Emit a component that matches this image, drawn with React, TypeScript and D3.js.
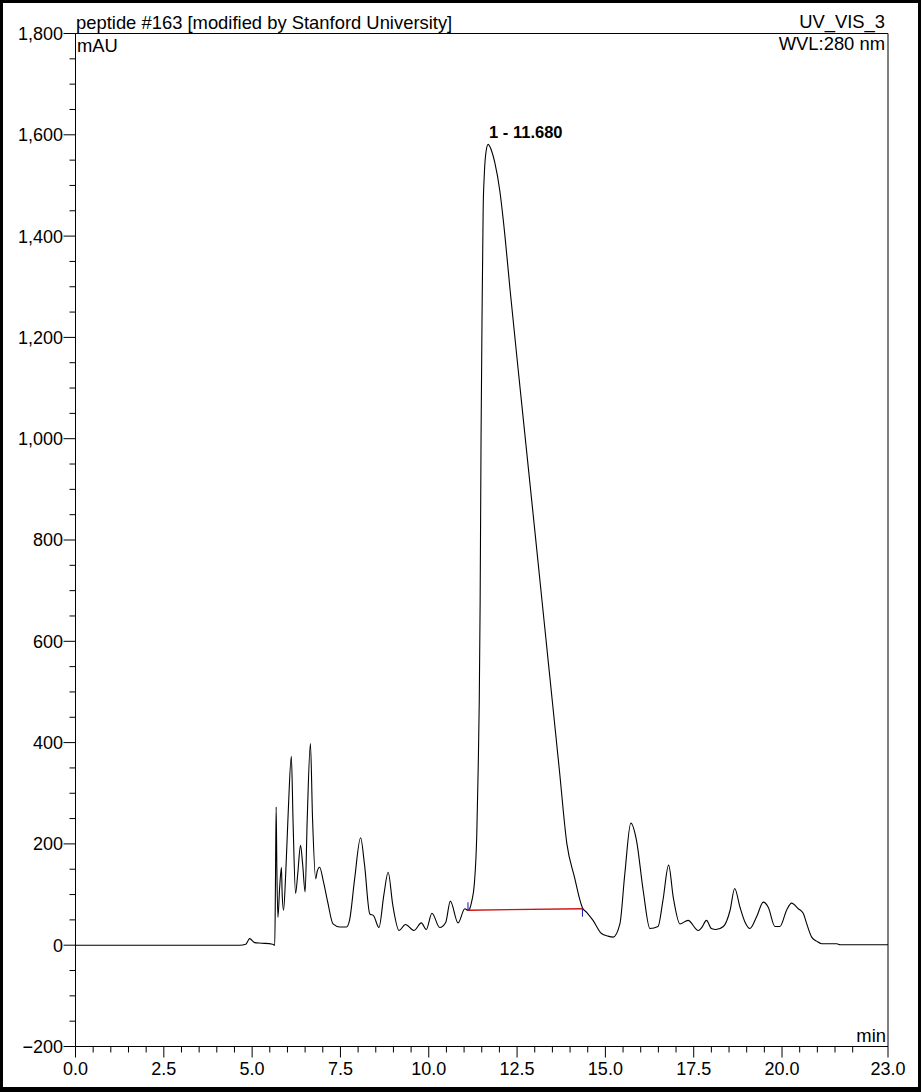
import * as d3 from "d3";

// retention time (min) and absorbance (mAU)
const TIME = [
  0, 4.65, 4.82, 4.93, 5.07, 5.27, 5.58, 5.64, 5.66, 5.68, 5.7, 5.73, 5.78, 5.83, 5.85, 5.89,
  5.95, 6.02, 6.11, 6.16, 6.23, 6.29, 6.37, 6.43, 6.5, 6.56, 6.65, 6.71, 6.8, 6.84, 6.91,
  7.02, 7.14, 7.29, 7.48, 7.67, 7.76, 7.9, 8.07, 8.18, 8.33, 8.44, 8.59, 8.73, 8.85, 8.98,
  9.16, 9.34, 9.58, 9.79, 9.93, 10.09, 10.31, 10.48, 10.61, 10.83, 11.02, 11.11, 11.15,
  11.22, 11.29, 11.36, 11.4, 11.43, 11.455, 11.48, 11.51, 11.54, 11.57, 11.61, 11.68, 11.78,
  11.87, 12.01, 12.15, 12.3, 12.6, 13.0, 13.4, 13.7, 13.91, 14.13, 14.28, 14.35, 14.47, 14.65,
  14.89, 15.07, 15.22, 15.41, 15.55, 15.72, 15.88, 16.07, 16.26, 16.49, 16.63, 16.79, 16.92,
  17.11, 17.34, 17.63, 17.73, 17.86, 18.0, 18.13, 18.34, 18.53, 18.66, 18.81, 18.95, 19.09,
  19.28, 19.47, 19.61, 19.8, 19.94, 20.13, 20.27, 20.46, 20.6, 20.7, 20.84, 20.98, 21.12,
  21.55, 21.64, 23.0,
];
const MAU = [
  0, 0, 2, 13, 5, 4, 2, 0, 120, 273, 150, 55, 115, 154, 102, 69,
  140, 260, 373, 240, 102, 140, 197, 160, 105, 250, 398, 250, 131, 145, 154,
  125, 85, 42, 36, 36, 50, 130, 212, 160, 62, 58, 35, 100, 144, 80,
  29, 41, 29, 44, 31, 63, 35, 45, 87, 44, 72, 69, 71,
  88, 121, 220, 352, 484, 682, 1000, 1254, 1452, 1518, 1560, 1581, 1568,
  1545, 1490, 1405, 1295, 1090, 820, 548, 344, 200, 133, 89, 74, 65, 49,
  23, 18, 16, 42, 141, 241, 207, 108, 33, 37, 89, 158, 95,
  42, 49, 29, 35, 49, 33, 31, 37, 69, 112, 75, 46, 33,
  56, 85, 75, 37, 37, 69, 83, 72, 63, 42, 16, 8, 3,
  3, 1, 1,
];

// integration baseline of peak 1 (start, end)
const BASE_TIME = [11.11, 14.35];
const BASE_MAU = [69, 72];
const PEAK_LABEL = "1 - 11.680";
const PEAK_TIME = 11.68;
const PEAK_MAU = 1581;

const X_MAJOR = [0, 2.5, 5, 7.5, 10, 12.5, 15, 17.5, 20, 23];
const Y_MAJOR = [-200, 0, 200, 400, 600, 800, 1000, 1200, 1400, 1600, 1800];

const W = 921;
const H = 1092;
const FONT = "'Liberation Sans', Arial, sans-serif";

export default function App() {
  const x = d3.scaleLinear().domain([0, 23]).range([75.5, 888]);
  const y = d3.scaleLinear().domain([-200, 1800]).range([1046.5, 33.5]);

  const pts: [number, number][] = TIME.map((t, i) => [t, MAU[i]]);
  const line = d3
    .line<[number, number]>()
    .x((d) => x(d[0]))
    .y((d) => y(d[1]))
    .curve(d3.curveMonotoneX);

  const xMinor = d3.range(0, 23.001, 0.5).filter((t) => t % 2.5 !== 0 && t !== 23);
  const yMinor = d3.range(-200, 1800.1, 50).filter((v) => v % 200 !== 0);
  const fmtY = d3.format(",");

  return (
    <svg
      width={W}
      height={H}
      style={{ position: "absolute", left: 0, top: 0, background: "#fff" }}
      fontFamily={FONT}
    >
      {/* outer frame */}
      <rect x={1.5} y={1.5} width={W - 3} height={H - 4.5} fill="none" stroke="#000" strokeWidth={3} />
      <rect x={0} y={H - 5} width={W} height={5} fill="#000" />

      {/* plot box */}
      <path
        d={`M${x(0)},${y(1800)}H${x(23)}V${y(-200)}H${x(0)}Z`}
        fill="none"
        stroke="#000"
        strokeWidth={1}
      />

      {/* y axis */}
      {Y_MAJOR.map((v) => (
        <g key={"ym" + v}>
          <line x1={x(0) - 12} x2={x(0)} y1={y(v)} y2={y(v)} stroke="#000" />
          <text x={63} y={y(v)} dy="0.36em" textAnchor="end" fontSize={18}>
            {fmtY(v)}
          </text>
        </g>
      ))}
      {yMinor.map((v) => (
        <line key={"yn" + v} x1={x(0) - 6} x2={x(0)} y1={y(v)} y2={y(v)} stroke="#000" />
      ))}

      {/* x axis */}
      {X_MAJOR.map((t) => (
        <g key={"xm" + t}>
          <line x1={x(t)} x2={x(t)} y1={y(-200)} y2={y(-200) + 11} stroke="#000" />
          <text x={x(t)} y={1075} textAnchor="middle" fontSize={18}>
            {t.toFixed(1)}
          </text>
        </g>
      ))}
      {xMinor.map((t) => (
        <line key={"xn" + t} x1={x(t)} x2={x(t)} y1={y(-200)} y2={y(-200) + 6} stroke="#000" />
      ))}

      {/* captions */}
      <text x={76} y={29} fontSize={18.4}>peptide #163 [modified by Stanford University]</text>
      <text x={77} y={52} fontSize={18.4}>mAU</text>
      <text x={885} y={28} fontSize={18.4} textAnchor="end">UV_VIS_3</text>
      <text x={885} y={50} fontSize={18.4} textAnchor="end">WVL:280 nm</text>
      <text x={886} y={1042} fontSize={18.4} textAnchor="end">min</text>

      {/* trace */}
      <path d={line(pts) ?? ""} fill="none" stroke="#000" strokeWidth={1.1} />

      {/* integration baseline */}
      <line
        x1={x(BASE_TIME[0])}
        x2={x(BASE_TIME[1])}
        y1={y(BASE_MAU[0])}
        y2={y(BASE_MAU[1])}
        stroke="#d01010"
        strokeWidth={1.3}
      />
      <line
        x1={x(BASE_TIME[0])}
        x2={x(BASE_TIME[0])}
        y1={y(BASE_MAU[0])}
        y2={y(BASE_MAU[0]) - 8}
        stroke="#1010c0"
      />
      <line
        x1={x(BASE_TIME[1])}
        x2={x(BASE_TIME[1])}
        y1={y(BASE_MAU[1])}
        y2={y(BASE_MAU[1]) + 8}
        stroke="#1010c0"
      />

      {/* peak label */}
      <text x={x(PEAK_TIME) + 1} y={y(PEAK_MAU) - 6} fontSize={16.5} fontWeight="bold">
        {PEAK_LABEL}
      </text>
    </svg>
  );
}
